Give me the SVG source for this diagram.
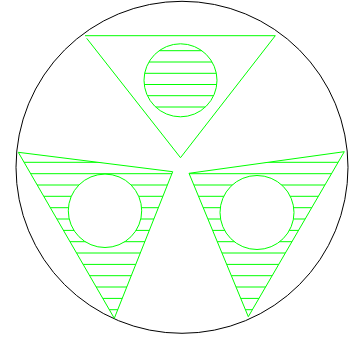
<svg xmlns="http://www.w3.org/2000/svg" width="352" height="338" viewBox="0 0 352 338">
<style>
.g{fill:none;stroke:#00ff00;stroke-width:1}
.w{fill:#fff;stroke:#00ff00;stroke-width:1}
.h{stroke:#00ff00;stroke-width:1}
</style>
<defs>
<clipPath id="cTop"><circle cx="180.5" cy="80.3" r="36.5"/></clipPath>
<clipPath id="cLeft"><polygon points="18.3,152.3 172.7,171.7 114.3,318.3"/></clipPath>
<clipPath id="cRight"><polygon points="189,173.3 344.3,151.7 248.3,316.7"/></clipPath>
</defs>
<rect width="352" height="338" fill="#fff"/>
<g id="outer"><circle cx="182" cy="167.3" r="166" fill="none" stroke="#000" stroke-width="1"/></g>
<g id="top">
<path class="g" d="M85,35.7 H275.3 L180.5,157.7 L86.7,38.3"/>
<g clip-path="url(#cTop)">
<line class="h" x1="130" x2="230" y1="50.7" y2="50.7"/>
<line class="h" x1="130" x2="230" y1="62" y2="62"/>
<line class="h" x1="130" x2="230" y1="73.3" y2="73.3"/>
<line class="h" x1="130" x2="230" y1="84.5" y2="84.5"/>
<line class="h" x1="130" x2="230" y1="95.7" y2="95.7"/>
<line class="h" x1="130" x2="230" y1="107" y2="107"/>
</g>
<circle class="g" cx="180.5" cy="80.3" r="36.5"/>
</g>
<g id="left">
<g clip-path="url(#cLeft)">
<line class="h" x1="0" x2="180" y1="162.3" y2="162.3"/>
<line class="h" x1="0" x2="180" y1="173.7" y2="173.7"/>
<line class="h" x1="0" x2="180" y1="185" y2="185"/>
<line class="h" x1="0" x2="180" y1="196.3" y2="196.3"/>
<line class="h" x1="0" x2="180" y1="207.7" y2="207.7"/>
<line class="h" x1="0" x2="180" y1="219" y2="219"/>
<line class="h" x1="0" x2="180" y1="230.4" y2="230.4"/>
<line class="h" x1="0" x2="180" y1="241.7" y2="241.7"/>
<line class="h" x1="0" x2="180" y1="253" y2="253"/>
<line class="h" x1="0" x2="180" y1="264.4" y2="264.4"/>
<line class="h" x1="0" x2="180" y1="275.7" y2="275.7"/>
<line class="h" x1="0" x2="180" y1="287" y2="287"/>
<line class="h" x1="0" x2="180" y1="298.4" y2="298.4"/>
<line class="h" x1="0" x2="180" y1="309.7" y2="309.7"/>
</g>
<polygon class="g" points="18.3,152.3 172.7,171.7 114.3,318.3"/>
<circle class="w" cx="105" cy="210.8" r="36.7"/>
</g>
<g id="right">
<g clip-path="url(#cRight)">
<line class="h" x1="180" x2="352" y1="162.3" y2="162.3"/>
<line class="h" x1="180" x2="352" y1="173.7" y2="173.7"/>
<line class="h" x1="180" x2="352" y1="185" y2="185"/>
<line class="h" x1="180" x2="352" y1="196.3" y2="196.3"/>
<line class="h" x1="180" x2="352" y1="207.7" y2="207.7"/>
<line class="h" x1="180" x2="352" y1="219" y2="219"/>
<line class="h" x1="180" x2="352" y1="230.4" y2="230.4"/>
<line class="h" x1="180" x2="352" y1="241.7" y2="241.7"/>
<line class="h" x1="180" x2="352" y1="253" y2="253"/>
<line class="h" x1="180" x2="352" y1="264.4" y2="264.4"/>
<line class="h" x1="180" x2="352" y1="275.7" y2="275.7"/>
<line class="h" x1="180" x2="352" y1="287" y2="287"/>
<line class="h" x1="180" x2="352" y1="298.4" y2="298.4"/>
<line class="h" x1="180" x2="352" y1="309.7" y2="309.7"/>
</g>
<polygon class="g" points="189,173.3 344.3,151.7 248.3,316.7"/>
<circle class="w" cx="257" cy="212.5" r="37"/>
</g>
</svg>
